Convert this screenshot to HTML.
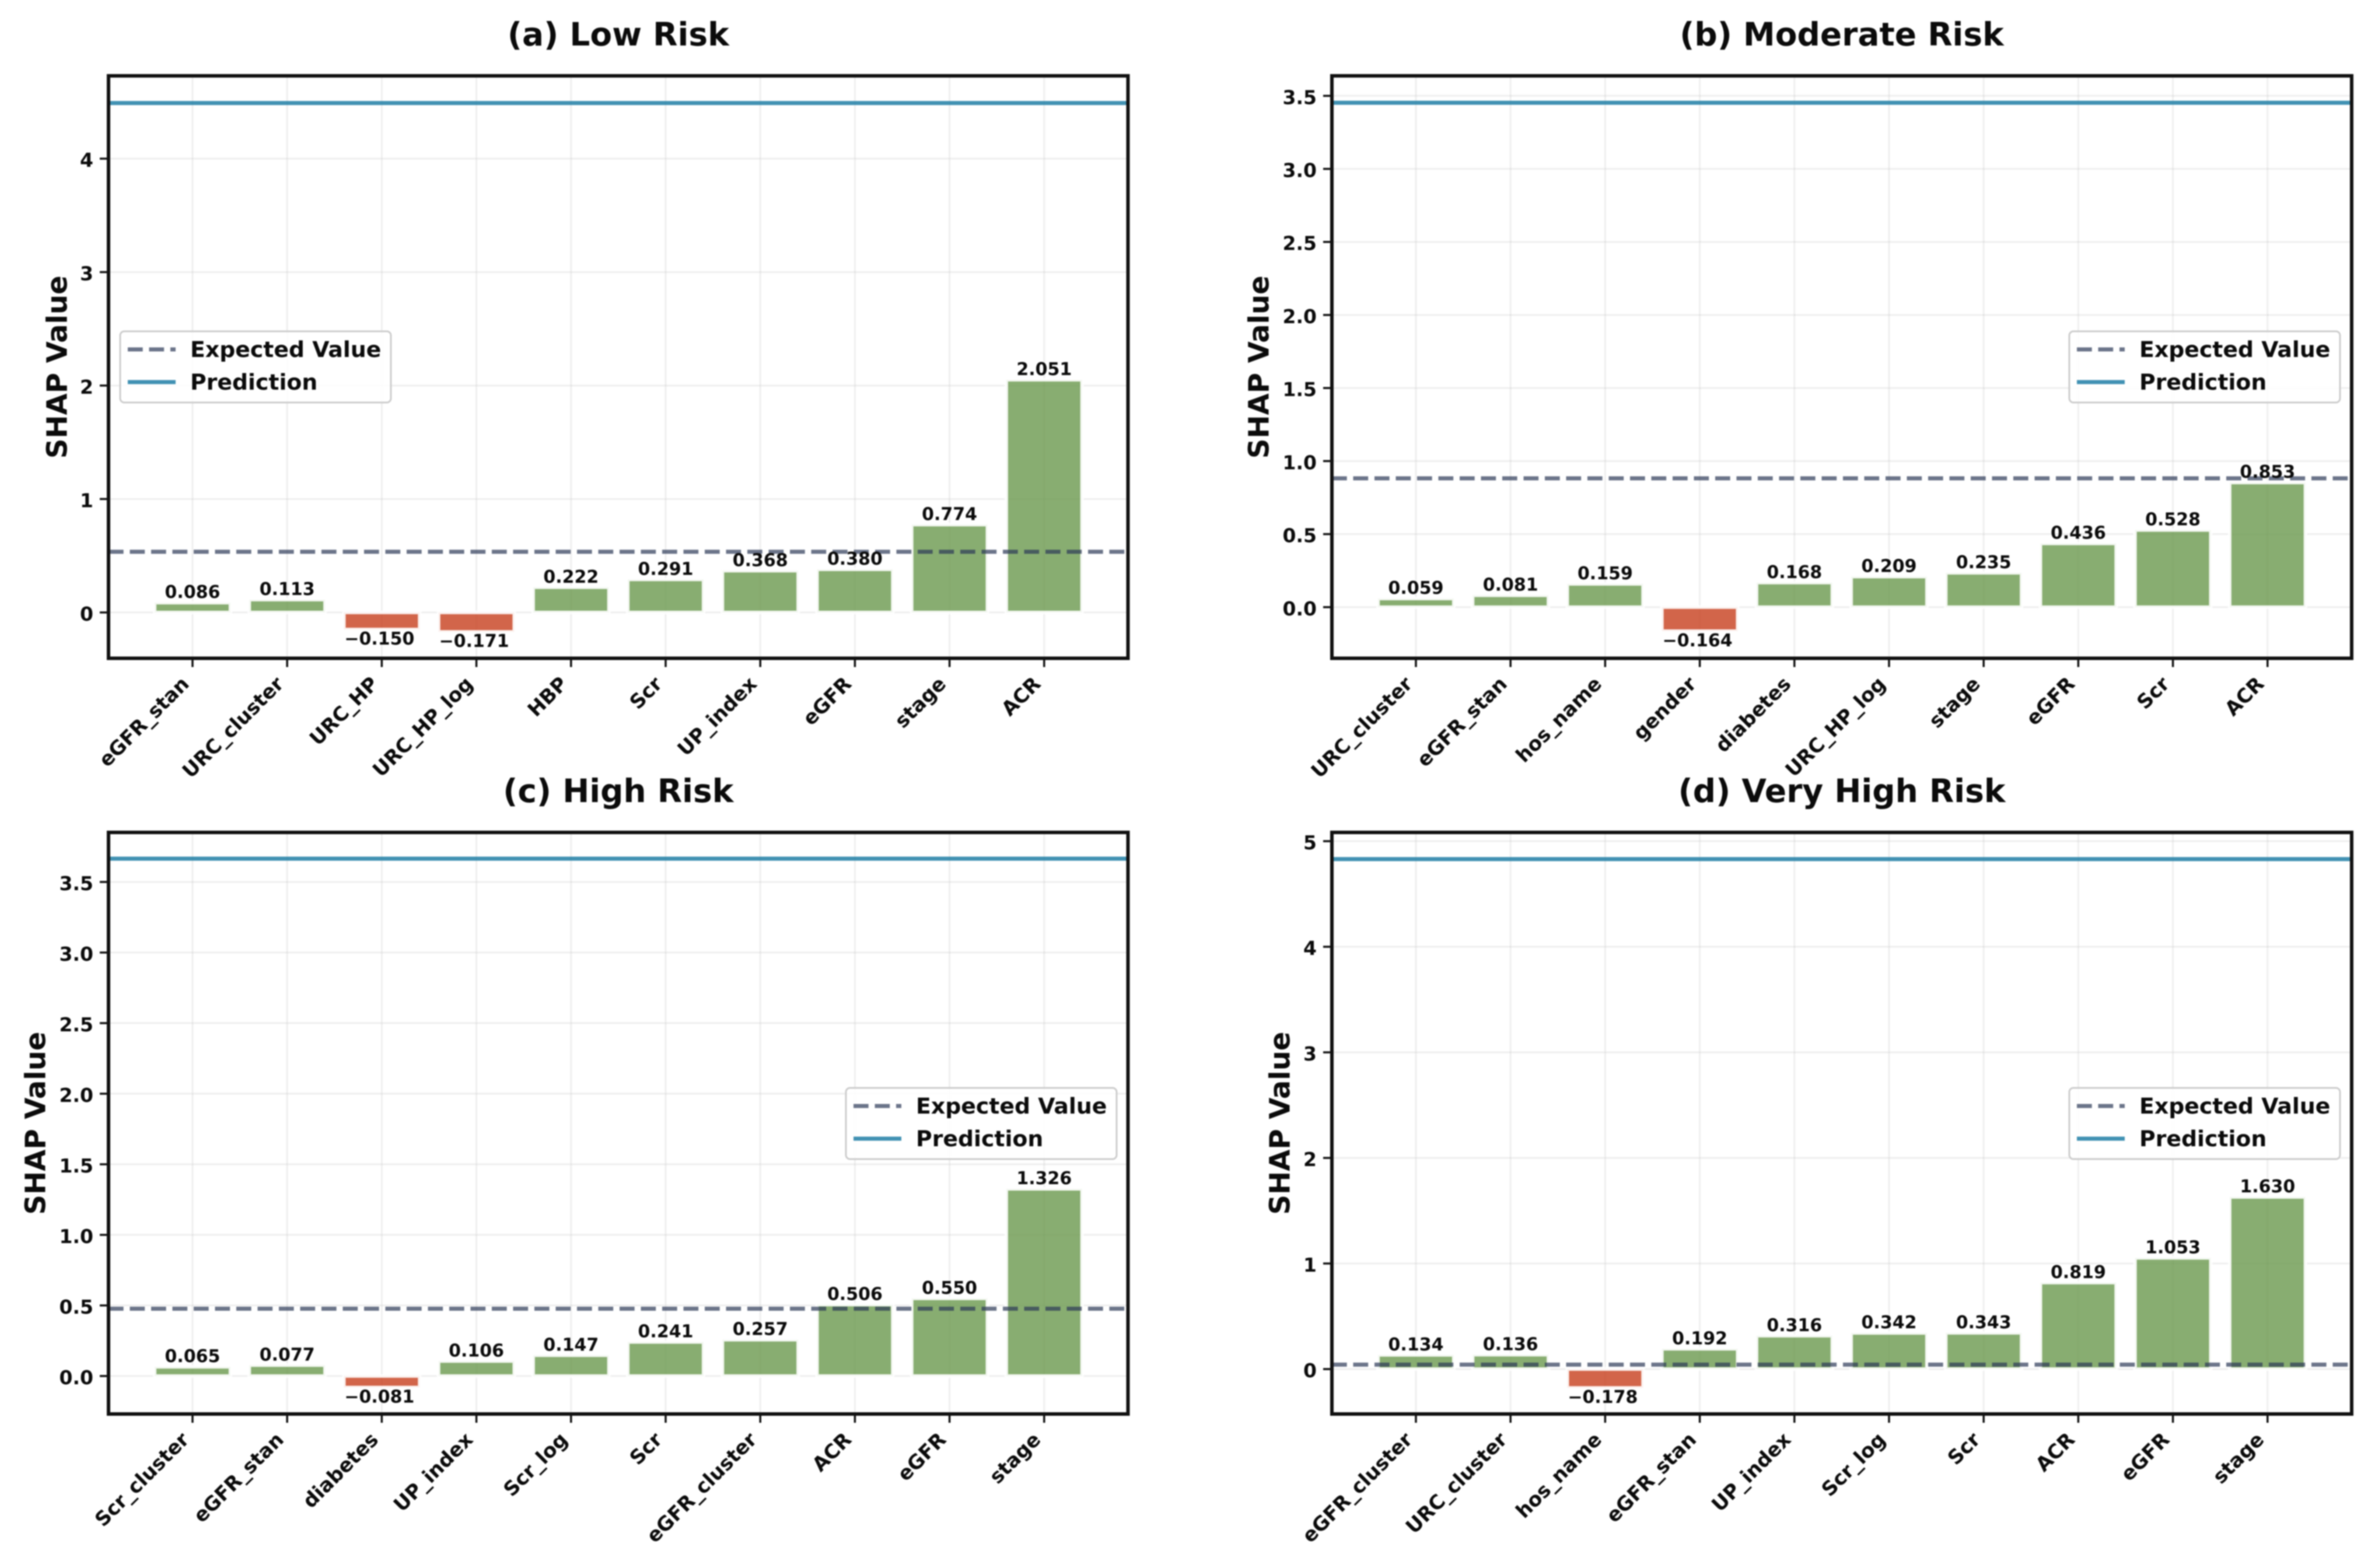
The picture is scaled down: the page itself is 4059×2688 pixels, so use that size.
<!DOCTYPE html>
<html lang="en">
<head>
<meta charset="utf-8">
<title>SHAP Values by Risk Group</title>
<style>
html,body{margin:0;padding:0;background:#fff;}
svg{display:block;filter:blur(1px);}
text{font-family:"DejaVu Sans","Liberation Sans",sans-serif;font-weight:bold;fill:#0b0b0b;}
</style>
</head>
<body>
<svg id="figure" xmlns="http://www.w3.org/2000/svg" width="4059" height="2688" viewBox="0 0 4059 2688"></svg>
<script>
const titleA = "(a) Low Risk";
const categoriesA = ["eGFR_stan","URC_cluster","URC_HP","URC_HP_log","HBP","Scr","UP_index","eGFR","stage","ACR"];
const valuesA = [0.086,0.113,-0.150,-0.171,0.222,0.291,0.368,0.380,0.774,2.051];
const ticksA = [0,1,2,3,4];
const rangeA = [-0.404,4.73];
const expectedA = 0.535;
const predictionA = 4.49;

const titleB = "(b) Moderate Risk";
const categoriesB = ["URC_cluster","eGFR_stan","hos_name","gender","diabetes","URC_HP_log","stage","eGFR","Scr","ACR"];
const valuesB = [0.059,0.081,0.159,-0.164,0.168,0.209,0.235,0.436,0.528,0.853];
const ticksB = [0,0.5,1,1.5,2,2.5,3,3.5];
const rangeB = [-0.35,3.637];
const expectedB = 0.882;
const predictionB = 3.453;

const titleC = "(c) High Risk";
const categoriesC = ["Scr_cluster","eGFR_stan","diabetes","UP_index","Scr_log","Scr","eGFR_cluster","ACR","eGFR","stage"];
const valuesC = [0.065,0.077,-0.081,0.106,0.147,0.241,0.257,0.506,0.550,1.326];
const ticksC = [0,0.5,1,1.5,2,2.5,3,3.5];
const rangeC = [-0.269,3.851];
const expectedC = 0.477;
const predictionC = 3.665;

const titleD = "(d) Very High Risk";
const categoriesD = ["eGFR_cluster","URC_cluster","hos_name","eGFR_stan","UP_index","Scr_log","Scr","ACR","eGFR","stage"];
const valuesD = [0.134,0.136,-0.178,0.192,0.316,0.342,0.343,0.819,1.053,1.630];
const ticksD = [0,1,2,3,4,5];
const rangeD = [-0.4254,5.083];
const expectedD = 0.042;
const predictionD = 4.83;

const legendLabels = ["Expected Value","Prediction"];
const yAxisTitle = "SHAP Value";

const NS = "http://www.w3.org/2000/svg";
const fig = document.getElementById("figure");

function make(parent, tag, attrs, txt) {
  const el = document.createElementNS(NS, tag);
  for (const k in attrs) el.setAttribute(k, attrs[k]);
  if (txt !== undefined) el.textContent = txt;
  parent.appendChild(el);
  return el;
}

function drawPanel(slug, box, title, categories, values, ticks, range, expected, prediction) {
  const L = box.left, R = box.right, T = box.top, B = box.bottom;
  const yScale = v => B - (v - range[0]) / (range[1] - range[0]) * (B - T);
  const step = 162.2;
  const xScale = i => L + 144 + step * i;
  const barW = step * 0.8;
  const decimals = ticks.some(t => t % 1 !== 0) ? 1 : 0;

  const g = make(fig, "g", {});
  
  

  const titleEl = make(g, "text", {x:(L+R)/2, y:T-52, "text-anchor":"middle", "font-size":55}, title);
  
  

  const yTitle = make(g, "text", {transform:"translate(" + box.yTitleX + "," + ((T+B)/2) + ") rotate(-90)", "text-anchor":"middle", "font-size":48}, yAxisTitle);
  
  

  // gridlines
  ticks.forEach(t => {
    const line = make(g, "line", {x1:L, x2:R, y1:yScale(t), y2:yScale(t), stroke:"#b0b0b0", "stroke-opacity":0.2, "stroke-width":3});
    
    
  });
  categories.forEach((c, i) => {
    const line = make(g, "line", {x1:xScale(i), x2:xScale(i), y1:T, y2:B, stroke:"#b0b0b0", "stroke-opacity":0.2, "stroke-width":3});
    
    
  });

  // bars
  values.forEach((v, i) => {
    const y0 = yScale(0), yv = yScale(v);
    const bar = make(g, "rect", {
      x: xScale(i) - barW/2, y: Math.min(y0, yv), width: barW, height: Math.abs(y0 - yv),
      fill: v >= 0 ? "#6A994E" : "#C73E1D", "fill-opacity": 0.8,
      stroke: "#ffffff", "stroke-opacity": 0.9, "stroke-width": 6
    });
    
    
  });

  // reference lines
  const expLine = make(g, "line", {x1:L, x2:R-3, y1:yScale(expected), y2:yScale(expected), stroke:"#2E3A59", "stroke-opacity":0.7, "stroke-width":7, "stroke-dasharray":"25.7 10.8"});
  
  
  const predLine = make(g, "line", {x1:L+3, x2:R-3, y1:yScale(prediction), y2:yScale(prediction), stroke:"#2E86AB", "stroke-opacity":0.9, "stroke-width":7});
  
  

  // value labels
  values.forEach((v, i) => {
    const txt = (v < 0 ? "\u2212" : "") + Math.abs(v).toFixed(3);
    const ly = v >= 0 ? yScale(v) - 8 : yScale(v) + 26;
    const lx = v >= 0 ? xScale(i) : xScale(i) - 4;
    const label = make(g, "text", {x:lx, y:ly, "text-anchor":"middle", "font-size":30}, txt);
    
    
  });

  // spines
  const frame = make(g, "rect", {x:L, y:T, width:R-L, height:B-T, fill:"none", stroke:"#111111", "stroke-width":6});
  
  

  // y ticks
  ticks.forEach(t => {
    const y = yScale(t);
    const mark = make(g, "line", {x1:L-15, x2:L, y1:y, y2:y, stroke:"#111111", "stroke-width":3.5});
    
    
    const lab = make(g, "text", {x:L-26, y:y+14, "text-anchor":"end", "font-size":33}, t.toFixed(decimals));
    
    
  });

  // x ticks
  categories.forEach((c, i) => {
    const x = xScale(i);
    const mark = make(g, "line", {x1:x, x2:x, y1:B, y2:B+15, stroke:"#111111", "stroke-width":3.5});
    
    
    const ax = x - 4, ay = B + 46;
    const lab = make(g, "text", {transform:"translate(" + ax + "," + ay + ") rotate(-45)", "text-anchor":"end", "font-size":34}, c);
    
    
  });

  // legend
  const lx = box.legendX, ly = T + 438;
  const legend = make(g, "g", {});
  
  
  const frameL = make(legend, "rect", {x:lx, y:ly, width:464, height:122, rx:7, ry:7, fill:"#ffffff", "fill-opacity":0.9, stroke:"#cccccc", "stroke-width":3});
  
  
  const h1 = make(legend, "line", {x1:lx+13, x2:lx+95, y1:ly+31, y2:ly+31, stroke:"#2E3A59", "stroke-opacity":0.7, "stroke-width":7, "stroke-dasharray":"25.7 10.8"});
  
  
  const t1 = make(legend, "text", {x:lx+120, y:ly+44, "font-size":37.8}, legendLabels[0]);
  
  
  const h2 = make(legend, "line", {x1:lx+13, x2:lx+95, y1:ly+87, y2:ly+87, stroke:"#2E86AB", "stroke-opacity":0.9, "stroke-width":7});
  
  
  const t2 = make(legend, "text", {x:lx+120, y:ly+100, "font-size":37.8}, legendLabels[1]);
  
  
}

drawPanel("low-risk", {left:186,right:1933.5,top:130,bottom:1128.5,yTitleX:114.5,legendX:206}, titleA, categoriesA, valuesA, ticksA, rangeA, expectedA, predictionA);
drawPanel("moderate-risk", {left:2283,right:4031,top:130,bottom:1128.5,yTitleX:2174.5,legendX:3547}, titleB, categoriesB, valuesB, ticksB, rangeB, expectedB, predictionB);
drawPanel("high-risk", {left:186,right:1933.5,top:1427,bottom:2424,yTitleX:77.5,legendX:1450}, titleC, categoriesC, valuesC, ticksC, rangeC, expectedC, predictionC);
drawPanel("very-high-risk", {left:2283,right:4031,top:1427,bottom:2424,yTitleX:2210.5,legendX:3547}, titleD, categoriesD, valuesD, ticksD, rangeD, expectedD, predictionD);
</script>
</body>
</html>
